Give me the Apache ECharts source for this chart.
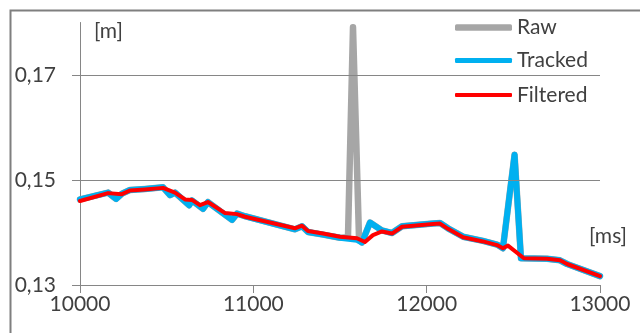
<!DOCTYPE html>
<html>
<head>
<meta charset="utf-8">
<script src="https://cdn.jsdelivr.net/npm/echarts@6/dist/echarts.min.js"></script>
<style>
html,body{margin:0;padding:0;background:#fff;}
#c{width:640px;height:333px;}
</style>
</head>
<body>
<div id="c"></div>
<script>
// ---- data (time in ms, distance in m) ----
const seriesNames = ['Raw', 'Tracked', 'Filtered'];
const xTicks = [10000, 11000, 12000, 13000];
const yTicks = [0.13, 0.15, 0.17];

const timeRaw = [10000,10162,10208,10242,10288,10375,10479,10520,10548,10630,10646,10710,10738,10877,10906,10952,11240,11281,11315,11402,11500,11546,11575,11610,11627,11673,11742,11800,11858,12037,12077,12123,12210,12325,12406,12440,12507,12544,12694,12769,12810,13000];
const raw = [0.1463,0.1476,0.1464,0.1474,0.1481,0.1483,0.1486,0.1471,0.1476,0.1452,0.1461,0.1445,0.1458,0.1424,0.1436,0.1431,0.1406,0.1412,0.1401,0.1396,0.1390,0.1391,0.1791,0.1386,0.1381,0.1419,0.1404,0.1399,0.1412,0.1417,0.1418,0.1408,0.1392,0.1384,0.1377,0.1370,0.1548,0.1351,0.1350,0.1347,0.1340,0.1317];

const timeTracked = [10000,10162,10208,10242,10288,10375,10479,10520,10548,10630,10646,10710,10738,10877,10906,10952,11240,11281,11315,11402,11500,11598,11627,11673,11742,11800,11858,12037,12077,12123,12210,12325,12406,12440,12507,12544,12694,12769,12810,13000];
const tracked = [0.1463,0.1476,0.1464,0.1474,0.1481,0.1483,0.1486,0.1471,0.1476,0.1452,0.1461,0.1445,0.1458,0.1424,0.1436,0.1431,0.1406,0.1412,0.1401,0.1396,0.1390,0.1386,0.1381,0.1419,0.1404,0.1399,0.1412,0.1417,0.1418,0.1408,0.1392,0.1384,0.1377,0.1370,0.1548,0.1351,0.1350,0.1347,0.1340,0.1317];

const timeFiltered = [10000,10162,10242,10288,10375,10479,10548,10606,10646,10692,10738,10837,10906,10952,11240,11281,11315,11402,11500,11598,11644,11690,11742,11800,11858,12037,12077,12123,12210,12325,12406,12440,12469,12561,12694,12769,12810,13000];
const filtered = [0.1460,0.1475,0.1473,0.1480,0.1482,0.1485,0.1476,0.1463,0.1462,0.1452,0.1458,0.1437,0.1435,0.1430,0.1408,0.1413,0.1403,0.1398,0.1392,0.1389,0.1382,0.1395,0.1402,0.1398,0.1411,0.1416,0.1417,0.1407,0.1391,0.1383,0.1376,0.1370,0.1375,0.1351,0.1350,0.1347,0.1340,0.1317];

const pairs = (t, v) => t.map((x, i) => [x, v[i]]);

const FONT = 'Lato';
const TXT = '#404040';
const AX = '#868686';

const chart = echarts.init(document.getElementById('c'), null, {renderer: 'canvas'});

function legendAt(name, top, h) {
  return {
    data: [name], left: 455, top: top, padding: 0,
    itemWidth: 57, itemHeight: h, icon: 'roundRect',
    textStyle: {fontFamily: FONT, fontSize: 21, color: TXT, lineHeight: 22},
    selectedMode: false
  };
}

chart.setOption({
  animation: false,
  backgroundColor: '#fff',
  grid: {left: 80, right: 40, top: 22.5, bottom: 48, containLabel: false},
  legend: [
    legendAt('Raw', 16.5, 6.5),
    legendAt('Tracked', 49.5, 5),
    legendAt('Filtered', 84, 4)
  ],
  xAxis: {
    type: 'value', min: 10000, max: 13000, interval: 1000,
    axisLine: {show: true, lineStyle: {color: AX, width: 1}},
    axisTick: {show: true, length: 8, lineStyle: {color: AX}},
    splitLine: {show: false},
    axisLabel: {fontFamily: FONT, fontSize: 21, color: TXT, margin: 9,
      customValues: xTicks, formatter: v => String(v)}
  },
  yAxis: {
    type: 'value', min: 0.13, max: 0.18, interval: 0.02,
    axisLine: {show: true, onZero: false, lineStyle: {color: AX, width: 1}},
    axisTick: {show: true, length: 8, lineStyle: {color: AX}, customValues: yTicks},
    splitLine: {show: false},
    axisLabel: {fontFamily: FONT, fontSize: 21, color: TXT, margin: 24,
      customValues: yTicks,
      formatter: v => v.toFixed(2).replace('.', ',')}
  },
  series: [
    {
      name: '_grid', type: 'line', data: [], z: 0, silent: true,
      markLine: {
        silent: true, symbol: ['none', 'none'], label: {show: false},
        lineStyle: {color: AX, width: 1, type: 'solid'},
        data: [{yAxis: yTicks[1]}, {yAxis: yTicks[2]}]
      }
    },
    {
      name: seriesNames[0], type: 'line', data: pairs(timeRaw, raw), z: 1,
      symbol: 'none', color: '#a6a6a6',
      lineStyle: {width: 6.5, color: '#a6a6a6', cap: 'round', join: 'round'}
    },
    {
      name: seriesNames[1], type: 'line', data: pairs(timeTracked, tracked), z: 2,
      symbol: 'none', color: '#00b0f0',
      lineStyle: {width: 6, color: '#00b0f0', cap: 'round', join: 'round'}
    },
    {
      name: seriesNames[2], type: 'line', data: pairs(timeFiltered, filtered), z: 3,
      symbol: 'none', color: '#ff0000',
      lineStyle: {width: 4, color: '#ff0000', cap: 'round', join: 'round'}
    }
  ],
  graphic: [
    {type: 'rect', left: 8, top: 8, silent: true, z: -1,
      shape: {x: 0, y: 0, width: 700, height: 400},
      style: {fill: 'none', stroke: '#7f7f7f', lineWidth: 2}},
    {type: 'text', left: 94, top: 21, silent: true,
      style: {text: '[m]', fontFamily: FONT, fontSize: 21, fill: TXT}},
    {type: 'text', left: 589, top: 226, silent: true,
      style: {text: '[ms]', fontFamily: FONT, fontSize: 21, fill: TXT}}
  ]
});
</script>
</body>
</html>
